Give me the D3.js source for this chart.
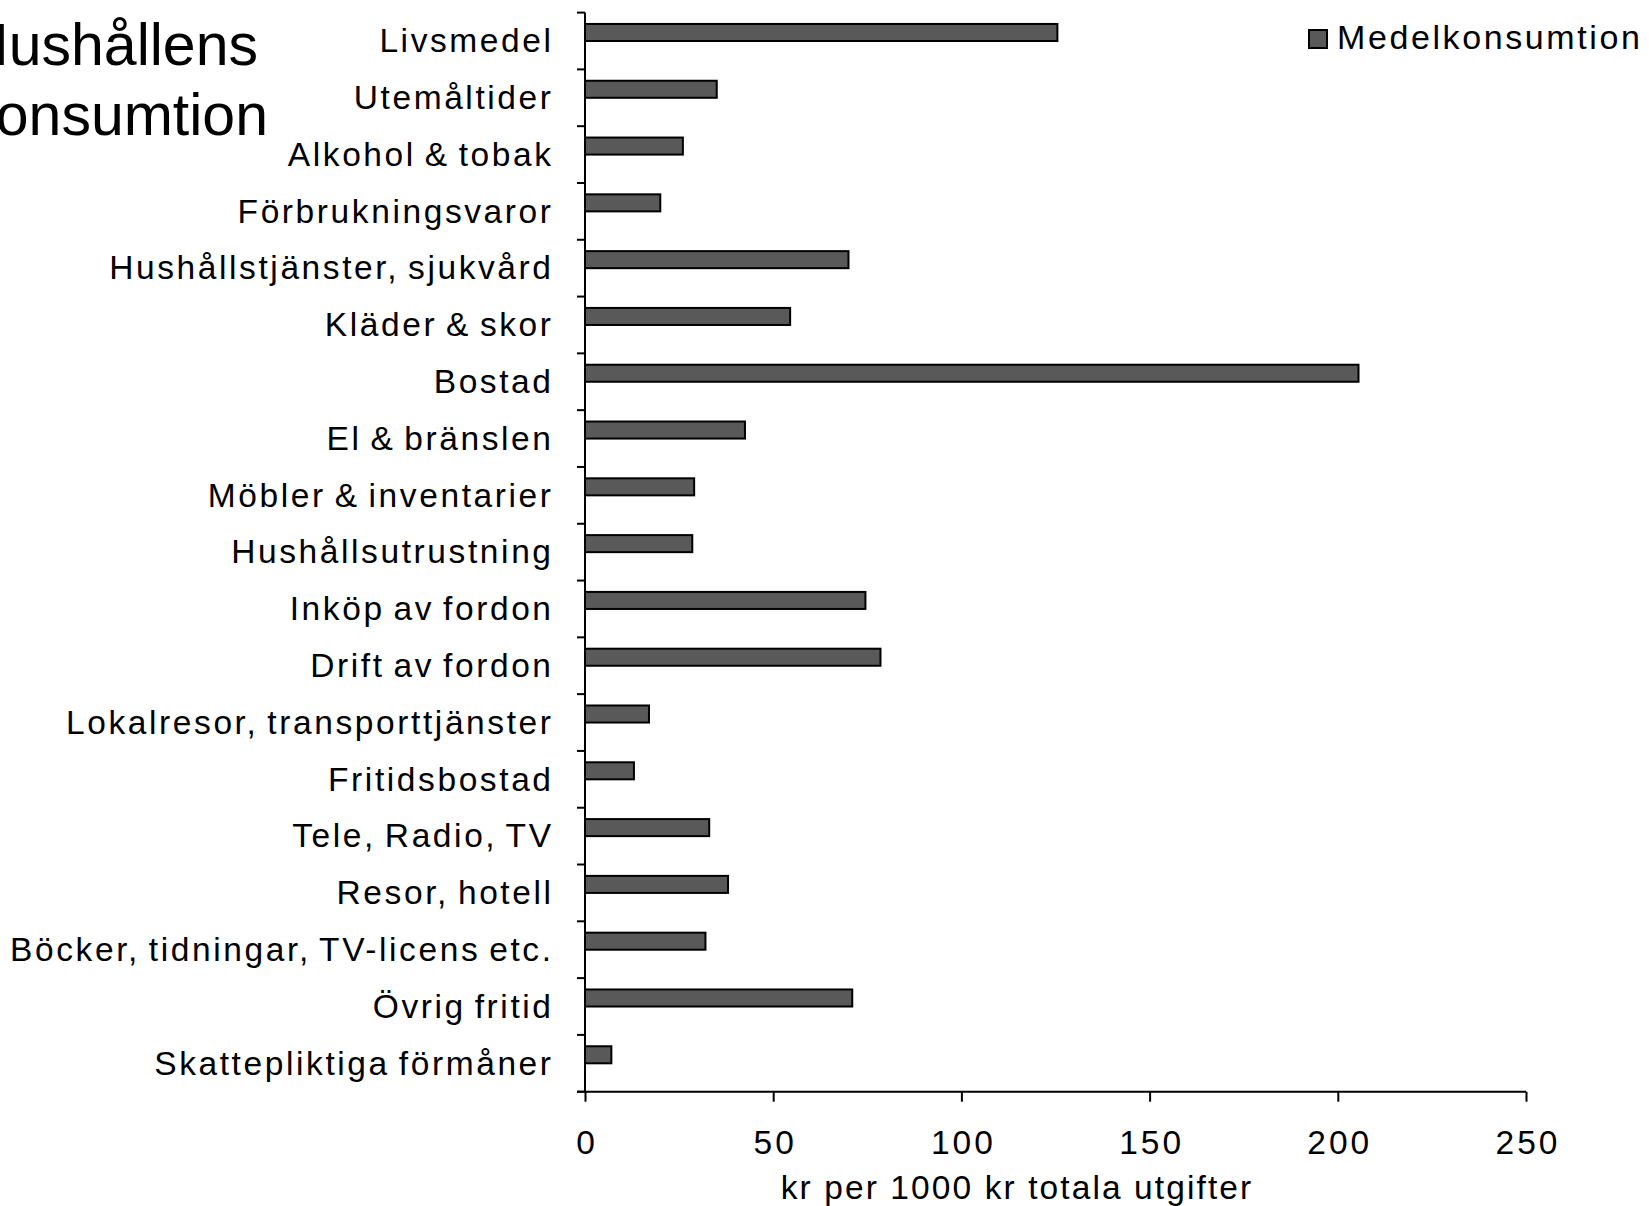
<!DOCTYPE html>
<html><head><meta charset="utf-8">
<script src="https://cdn.jsdelivr.net/npm/d3@7"></script>
<style>
html,body{margin:0;padding:0;background:#fff;overflow:hidden}
text{font-family:"Liberation Sans",Arial,sans-serif;fill:#000}
</style></head>
<body><svg id="c" width="1649" height="1206"></svg>
<script>
const categories = ["Livsmedel","Utemåltider","Alkohol & tobak","Förbrukningsvaror","Hushållstjänster, sjukvård","Kläder & skor","Bostad","El & bränslen","Möbler & inventarier","Hushållsutrustning","Inköp av fordon","Drift av fordon","Lokalresor, transporttjänster","Fritidsbostad","Tele, Radio, TV","Resor, hotell","Böcker, tidningar, TV-licens etc.","Övrig fritid","Skattepliktiga förmåner"];
const values = [125.5,35,26,20,70,54.5,205.5,42.5,29,28.5,74.5,78.5,17,13,33,38,32,71,7];
const xTicks = [0,50,100,150,200,250];
const seriesName = "Medelkonsumtion";
const titleLines = ["Hushållens","konsumtion"];
const axisTitle = "kr per 1000 kr totala utgifter";

(function(){
const svg = d3.select("#c");
const pl = 585, pr = 1526, pt = 12.6, pb = 1091.7;
const fs = 33.5, ls = 2.6;
const x = d3.scaleLinear().domain([0,250]).range([pl,pr]);
const y = d3.scaleBand().domain(categories).range([pt,pb]);
const bw = y.bandwidth();

svg.append("g").selectAll("rect").data(values).join("rect")
  .attr("x", x(0))
  .attr("y", (d,i)=>y(categories[i]) + bw*0.2)
  .attr("width", d=>x(d)-x(0))
  .attr("height", bw*0.3)
  .attr("fill","#595959").attr("stroke","#000").attr("stroke-width",2);

const ya = svg.append("g");
ya.append("line").attr("x1",pl).attr("x2",pl).attr("y1",pt).attr("y2",pb).attr("stroke","#000").attr("stroke-width",2);
const bounds = categories.map(c=>y(c)).concat([pb]);
ya.selectAll("line.t").data(bounds).join("line").attr("class","t")
  .attr("x1",pl-8).attr("x2",pl).attr("y1",d=>d).attr("y2",d=>d).attr("stroke","#000").attr("stroke-width",2);
ya.selectAll("text").data(categories).join("text")
  .attr("x",551+ls).attr("y",d=>y(d)+bw/2+11.3)
  .attr("text-anchor","end").attr("font-size",fs).attr("letter-spacing",ls).attr("word-spacing",-3).text(d=>d);

const xa = svg.append("g").attr("transform",`translate(0,${pb})`)
  .call(d3.axisBottom(x).tickValues(xTicks).tickSize(10).tickFormat(d3.format("d")));
xa.select(".domain").attr("stroke","#000").attr("stroke-width",2).attr("d",`M${pl-8},0H${pr}`);
xa.selectAll(".tick line").attr("stroke","#000").attr("stroke-width",2);
xa.selectAll(".tick text").attr("font-size",fs).attr("letter-spacing",3).attr("dx",1.5)
  .attr("y",1154.5-pb).attr("dy",0)
  .attr("font-family","Liberation Sans, Arial, sans-serif").attr("fill","#000");

svg.append("text").attr("x",1017).attr("y",1199).attr("text-anchor","middle").attr("font-size",fs).attr("letter-spacing",2.1).text(axisTitle);

svg.append("text").attr("x",258).attr("y",65).attr("text-anchor","end").attr("font-size",59).text(titleLines[0]);
svg.append("text").attr("x",268).attr("y",135).attr("text-anchor","end").attr("font-size",59).text(titleLines[1]);

svg.append("rect").attr("x",1309).attr("y",30).attr("width",18).attr("height",18).attr("fill","#595959").attr("stroke","#000").attr("stroke-width",2);
svg.append("text").attr("x",1337).attr("y",49.3).attr("font-size",34).attr("letter-spacing",2.6).text(seriesName);
})();
</script></body></html>
